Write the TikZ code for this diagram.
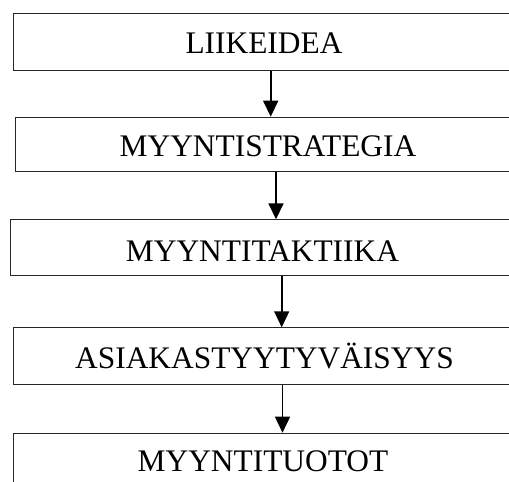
\documentclass[tikz,border=0pt]{standalone}
\usepackage{fontspec}
\setmainfont{Liberation Serif}
\usetikzlibrary{arrows.meta}

\tikzset{
  stage/.style={draw=black!85, line width=1pt, rectangle, inner sep=0pt,
                anchor=north west, fill=none},
  stagetext/.style={font=\fontsize{31.4pt}{36pt}\selectfont, inner sep=0pt,
                anchor=base},
  flow/.style={line width=1.6pt, -{Triangle[length=16pt,width=15pt]}}
}

\begin{document}
\begin{tikzpicture}[x=1pt, y=-1pt]
  \useasboundingbox (0,0) rectangle (509,482);
  \clip (0,0) rectangle (509,482);

  % stage boxes (they run on past the right edge of the page)
  \node[stage, minimum width=502.6pt, minimum height=57pt]   (b1) at (12.7,12.7)  {};
  \node[stage, minimum width=506pt,   minimum height=54pt]   (b2) at (15,116.7)   {};
  \node[stage, minimum width=505pt,   minimum height=55.7pt] (b3) at (10,219.3)   {};
  \node[stage, minimum width=503.6pt, minimum height=57pt]   (b4) at (12.7,327.3) {};
  \node[stage, minimum width=500.6pt, minimum height=80pt]   (b5) at (12.7,432.7) {};

  % stage names
  \node[stagetext] (t1) at (264,53.3)   {LIIKEIDEA};
  \node[stagetext] (t2) at (268,156.7)  {MYYNTISTRATEGIA};
  \node[stagetext] (t3) at (262.5,261.7){MYYNTITAKTIIKA};
  \node[stagetext] (t4) at (264.5,368.3){ASIAKASTYYTYVÄISYYS};
  \node[stagetext] (t5) at (263,471.7)  {MYYNTITUOTOT};

  % horizontal positions of the arrows
  \coordinate (x1) at (270.7,0);
  \coordinate (x2) at (276,0);
  \coordinate (x3) at (281.7,0);
  \coordinate (x4) at (282.5,0);

  % arrows between stages
  \draw[flow] (b1.south -| x1) -- (b2.north -| x1);
  \draw[flow] (b2.south -| x2) -- (b3.north -| x2);
  \draw[flow] (b3.south -| x3) -- (b4.north -| x3);
  \draw[flow] (b4.south -| x4) -- (b5.north -| x4);
\end{tikzpicture}
\end{document}
